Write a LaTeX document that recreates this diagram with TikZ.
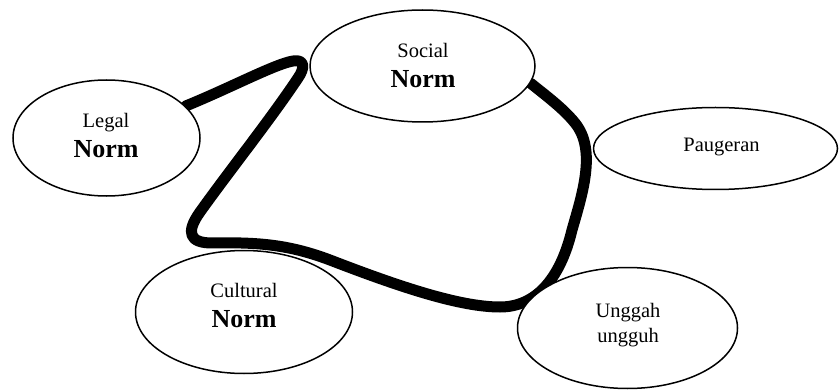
\documentclass[tikz,border=0pt]{standalone}
\usepackage{fontspec}
\setmainfont{Liberation Serif}
\usetikzlibrary{shapes.geometric}
\begin{document}
\begin{tikzpicture}[x=1pt,y=-1pt,
  oval/.style={ellipse,draw=black,line width=1.5pt,fill=white,inner sep=0pt},
  lab/.style={anchor=base,inner sep=0pt,font=\fontsize{20.5}{24}\selectfont},
  blab/.style={anchor=base,inner sep=0pt,font=\fontsize{26}{30}\selectfont\bfseries},
  bigline/.style={line width=11pt,line cap=round,line join=round}]
\useasboundingbox (0,0) rectangle (840,390);
% node positions
\coordinate (lc) at (106.5,138);
\coordinate (sc) at (422.5,66);
% thick curve (drawn first, ellipses cover its ends)
\node[oval,minimum width=187pt,minimum height=116pt,draw=none,fill=none] (legalb) at (lc) {};
\node[oval,minimum width=225pt,minimum height=112pt,draw=none,fill=none] (socialb) at (sc) {};
\draw[bigline] (legalb.22) .. controls (230,88) and (275,64) .. (293,61)
  .. controls (305,59) and (305,68) .. (298,78)
  .. controls (270,120) and (230,170) .. (200,212)
  .. controls (185,233) and (190,243) .. (212,243)
  .. controls (260,242) and (290,245) .. (330,260)
  .. controls (400,287) and (460,307) .. (500,307)
  .. controls (535,307) and (560,280) .. (572,230)
  .. controls (582,195) and (597,150) .. (575,123)
  .. controls (563,108) and (545,95) .. (socialb.-9);
% ellipses
\node[oval,minimum width=187pt,minimum height=116pt] (legal) at (lc) {};
\node[oval,minimum width=225pt,minimum height=112pt] (social) at (sc) {};
\node[oval,minimum width=244pt,minimum height=82pt] (paugeran) at (715.5,148.5) {};
\node[oval,minimum width=217pt,minimum height=123pt] (cultural) at (244,312) {};
\node[oval,minimum width=220pt,minimum height=121pt] (unggah) at (627.5,328) {};
% texts
\node[lab] (legal1) at (106,128) {Legal};
\node[blab] (legal2) at (106,158) {Norm};
\node[lab] (social1) at (423,58) {Social};
\node[blab] (social2) at (423,88) {Norm};
\node[lab] (paug1) at (721.5,152) {Paugeran};
\node[lab] (cult1) at (244,297) {Cultural};
\node[blab] (cult2) at (244,327) {Norm};
\node[lab] (ungg1) at (628,317) {Unggah};
\node[lab] (ungg2) at (628,342) {ungguh};
\end{tikzpicture}
\end{document}
